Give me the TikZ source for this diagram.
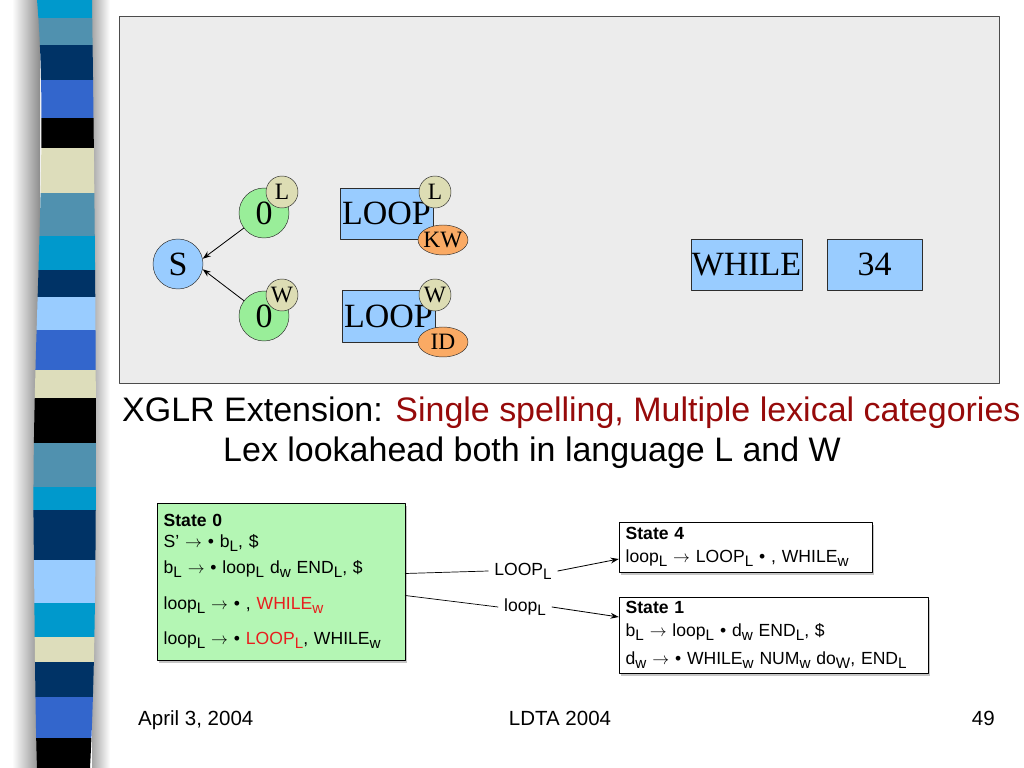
\documentclass[tikz,border=0pt]{standalone}
\usepackage{fontspec}
\setmainfont{Liberation Serif}
\setsansfont{Liberation Sans}
\usetikzlibrary{arrows.meta,shapes.geometric,shadows}
\definecolor{panel}{RGB}{236,236,236}
\definecolor{pen}{RGB}{45,45,45}
\definecolor{tokblue}{RGB}{153,204,255}
\definecolor{stategreen}{RGB}{153,238,153}
\definecolor{badge}{RGB}{221,221,180}
\definecolor{lexcat}{RGB}{250,170,100}
\definecolor{titlered}{RGB}{150,10,10}
\definecolor{itemred}{RGB}{232,30,30}
\definecolor{boxgreen}{RGB}{180,246,180}
% stripe colours of the side bar
\definecolor{stC}{RGB}{0,153,204}
\definecolor{stS}{RGB}{80,145,175}
\definecolor{stN}{RGB}{0,51,102}
\definecolor{stR}{RGB}{51,102,204}
\definecolor{stK}{RGB}{0,0,0}
\definecolor{stE}{RGB}{221,221,187}
\definecolor{stP}{RGB}{153,204,255}
\newcommand{\lsub}[1]{\raisebox{-0.45ex}{\fontsize{13}{13}\selectfont #1}}
\newcommand{\yields}{$\rightarrow$}

\begin{document}
\begin{tikzpicture}[x=0.03cm, y=-0.03cm, line cap=round, line join=round,
  tok/.style={draw=pen, fill=tokblue, rectangle, inner sep=0pt,
              font=\fontsize{29}{29}\selectfont},
  stack/.style={draw=pen, circle, inner sep=0pt, minimum size=1.5cm,
                font=\fontsize{29}{29}\selectfont},
  lang/.style={draw=pen, fill=badge, circle, inner sep=0pt, minimum size=0.96cm,
               font=\fontsize{20}{20}\selectfont},
  cat/.style={draw=pen, fill=lexcat, ellipse, inner sep=0pt, inner xsep=-2pt,
              minimum width=1.5cm, minimum height=0.9cm,
              font=\fontsize{20}{20}\selectfont},
  state/.style={draw=black, rectangle, align=left, inner xsep=0.2cm,
                font=\sffamily\fontsize{15}{18}\selectfont,
                drop shadow={shadow xshift=1.5pt, shadow yshift=-2.5pt, fill=black!45}},
  edgelbl/.style={font=\sffamily\fontsize{15}{18}\selectfont, inner xsep=5pt, inner ysep=2pt},
  goto/.style={-{Stealth[length=7pt,width=5pt]}, black, line width=0.7pt}]

  \useasboundingbox (0,0) rectangle (1024,768);

  %========= side bar =========
  \shade[left color=white, right color=black!45] (12,0) rectangle (40,768);
  \shade[left color=black!35, right color=white] (92,0) rectangle (110,768);
  \begin{scope}
    \clip (37,0) .. controls (50,150) and (30,350) .. (34,560)
          .. controls (35,680) and (36,740) .. (37,768) -- (90,768)
          .. controls (99,600) and (96,300) .. (92,0) -- cycle;
    \foreach \ya/\yb/\c in {0/18/stC, 18/45/stS, 45/80/stN, 80/118/stR,
        118/148/stK, 148/193/stE, 193/236/stS, 236/270/stC, 270/297/stN,
        297/330/stP, 330/370/stR, 370/398/stE, 398/443/stK, 443/487/stS,
        487/510/stC, 510/560/stN, 560/603/stP, 603/637/stC, 637/662/stE,
        662/697/stN, 697/738/stR, 738/768/stK}
      \fill[\c] (20,\ya) rectangle (110,\yb);
  \end{scope}

  %========= parse panel =========
  \draw[fill=panel, draw=black!70, line width=0.8pt] (119,16) rectangle (999,383);

  % stacks
  \node[stack, fill=tokblue] (S) at (178,264) {S};
  \node[stack, fill=stategreen] (zeroL) at (264,213) {0};
  \node[stack, fill=stategreen] (zeroW) at (264,316) {0};
  \node[lang] (langL) at (282,192) {L};
  \node[lang] (langW) at (282,295) {W};
  \draw[goto] (zeroL) -- (S.12);
  \draw[goto] (zeroW) -- (S.-12);

  % tokens
  \node[tok, minimum width=2.79cm, minimum height=1.53cm] (loopKw) at (386.5,213.5) {LOOP};
  \node[lang] (loopKwL) at (435,192) {L};
  \node[cat] (catKw) at (443,240) {KW};
  \node[tok, minimum width=2.79cm, minimum height=1.56cm] (loopId) at (388.5,316) {LOOP};
  \node[lang] (loopIdW) at (435,295) {W};
  \node[cat] (catId) at (443,342) {ID};
  \node[tok, minimum width=3.33cm, minimum height=1.53cm] (while) at (746.5,264.5) {WHILE};
  \node[tok, minimum width=2.85cm, minimum height=1.53cm] (num) at (874.5,264.5) {34};

  %========= caption =========
  \node[anchor=base west, inner sep=0pt, font=\sffamily\fontsize{29}{34}\selectfont] (title) at (122,422)
    {XGLR Extension: \textcolor{titlered}{Single spelling, Multiple lexical categories}};
  \node[anchor=base west, inner sep=0pt, font=\sffamily\fontsize{29}{34}\selectfont] (subtitle) at (223,462)
    {Lex lookahead both in language L and W};

  %========= LR states =========
  \node[state, fill=boxgreen, text width=7.04cm, minimum height=4.71cm] (state0) at (281,581.5)
    {\textbf{State 0}\\[0pt]
     S' \yields{} \textbullet{} b\lsub{L}, \$\\[4pt]
     b\lsub{L} \yields{} \textbullet{} loop\lsub{L} d\lsub{w} END\lsub{L}, \$\\[13pt]
     loop\lsub{L} \yields{} \textbullet{} , \textcolor{itemred}{WHILE\lsub{w}}\\[12pt]
     loop\lsub{L} \yields{} \textbullet{} \textcolor{itemred}{LOOP\lsub{L}}, WHILE\lsub{w}};
  \node[state, fill=white, text width=7.19cm, minimum height=1.5cm] (state4) at (745.5,547)
    {\textbf{State 4}\\[1pt]
     loop\lsub{L} \yields{} LOOP\lsub{L} \textbullet{} , WHILE\lsub{w}};
  \node[state, fill=white, text width=8.87cm, minimum height=2.28cm] (state1) at (773.5,635)
    {\textbf{State 1}\\[1pt]
     b\lsub{L} \yields{} loop\lsub{L} \textbullet{} d\lsub{w} END\lsub{L}, \$\\[6pt]
     \mbox{d\lsub{w} \yields{} \textbullet{} WHILE\lsub{w} NUM\lsub{w} do\lsub{W}, END\lsub{L}}};

  \node[edgelbl] (onLOOP) at (523,571) {LOOP\lsub{L}};
  \node[edgelbl] (onloop) at (525,607) {loop\lsub{L}};
  \draw[black, line width=0.6pt] ([shift={(0,-8)}]state0.east) -- (onLOOP.west);
  \draw[black, line width=0.6pt] ([shift={(0,14)}]state0.east) -- (onloop.west);
  \draw[goto] (onLOOP.east) -- ([shift={(0,12)}]state4.west);
  \draw[goto] (onloop.east) -- ([shift={(0,-18)}]state1.west);

  %========= footer =========
  \node[anchor=base west, inner sep=0pt, font=\sffamily\fontsize{17.5}{20}\selectfont] (date) at (138,725) {April 3, 2004};
  \node[anchor=base, inner sep=0pt, font=\sffamily\fontsize{17.5}{20}\selectfont] (venue) at (560,725) {LDTA 2004};
  \node[anchor=base east, inner sep=0pt, font=\sffamily\fontsize{17.5}{20}\selectfont] (page) at (995,725) {49};
\end{tikzpicture}
\end{document}
